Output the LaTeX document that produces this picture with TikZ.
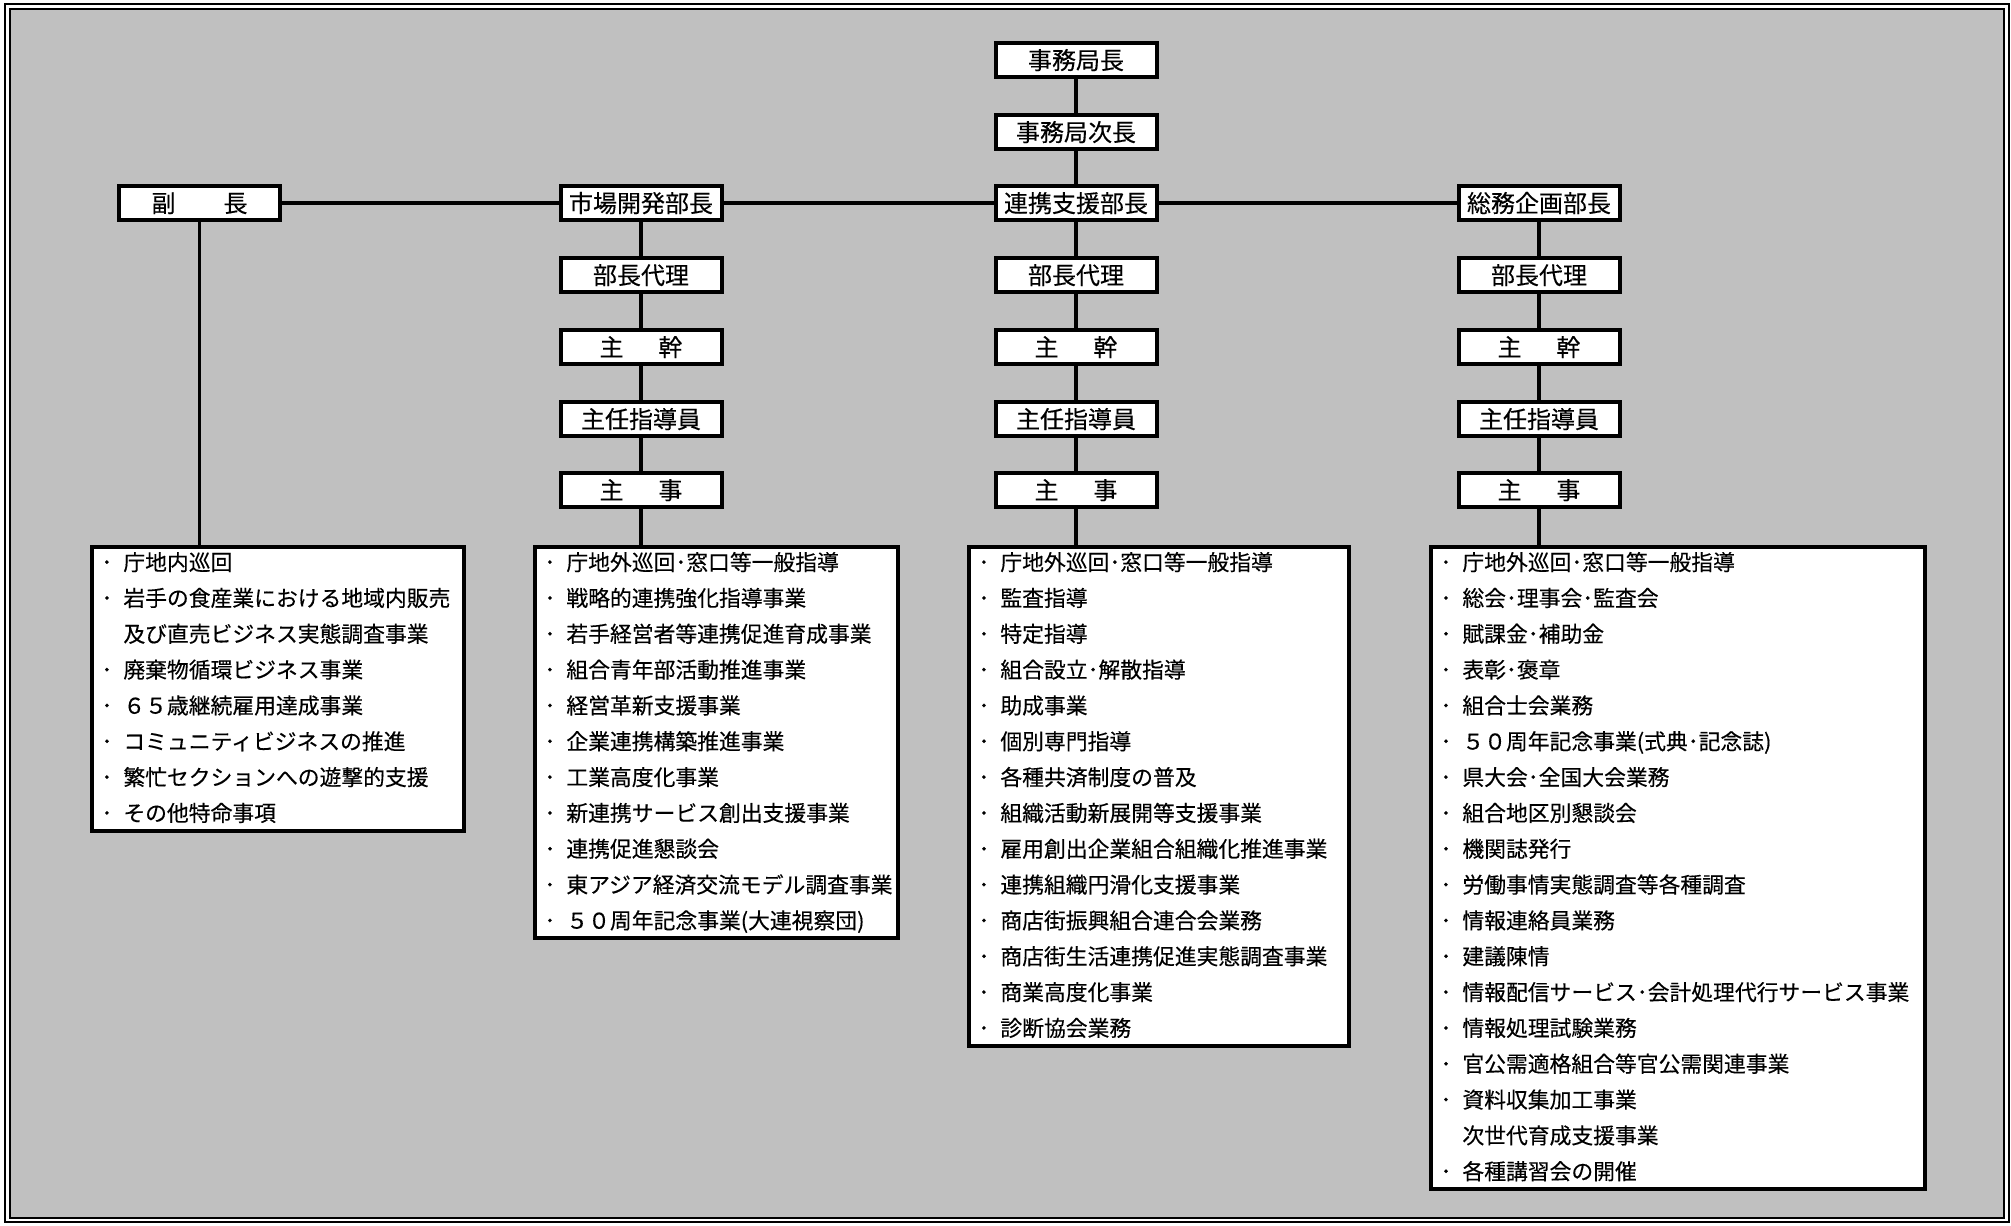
\documentclass[tikz,border=0pt]{standalone}
\usepackage{fontspec}
\setmainfont{Noto Sans CJK JP}[FakeBold=0.3]
\usepackage{tikz}
\definecolor{panel}{RGB}{192,192,192}
\newcommand*{\itm}{\llap{･\hspace{5.5pt}}}

\begin{document}
\begin{tikzpicture}[x=0.5pt, y=-0.5pt]
  \useasboundingbox (0,0) rectangle (2011,1225);
  \draw [line width=1pt] (5,4.5) rectangle (2008.5,1222);
  \draw [line width=1.3pt, fill=panel] (10,9) rectangle (2004,1218);

  \tikzstyle{dutybox}=[draw, line width=2pt, fill=white, anchor=north west, inner sep=0pt]
  \tikzstyle{duty}=[anchor=west, inner sep=0pt, font=\fontsize{10.9}{13}\selectfont,
    text height=9.6pt, text depth=1.2pt]

  {\tikzstyle{every node}=[draw, line width=2pt, fill=white, inner sep=0pt,
      minimum width=80.5pt, minimum height=17pt,
      font=\fontsize{12}{14}\selectfont, text height=10.4pt, text depth=1.2pt]
    \node (kyoku) at (1076, 60) {事務局長};
    \node (jicho) at (1076, 132) {事務局次長};
    \node (d0) at (199.5, 203) {副\hspace{2em}長};
    \foreach \i/\x/\bu in {1/641/市場開発部長, 2/1076/連携支援部長, 3/1539/総務企画部長}
    {
      \node (d\i) at (\x, 203) {\bu};
      \node (s\i3) at (\x, 275) {部長代理};
      \node (s\i4) at (\x, 347) {主\hspace{1.45em}幹};
      \node (s\i5) at (\x, 419) {主任指導員};
      \node (s\i6) at (\x, 490) {主\hspace{1.45em}事};
    }
  }

  % duty lists
  \foreach \i/\x/\w/\n in {0/90/372/8, 1/533/363/11, 2/967/380/14, 3/1429/494/18}
  {
    \node [dutybox, minimum width={\w*0.5pt}, minimum height={(33+(\n-1)*35.83)*0.5pt}]
      (l\i) at (\x, 545) {};
  }

  \foreach \duty [count=\k from 0] in {\itm 庁地内巡回, \itm 岩手の食産業における地域内販売,
      及び直売ビジネス実態調査事業, \itm 廃棄物循環ビジネス事業, \itm ６５歳継続雇用達成事業,
      \itm コミュニティビジネスの推進, \itm 繁忙セクションへの遊撃的支援, \itm その他特命事項}
    \node [duty] (t0\k) at ([shift={(33,{17+35.83*\k})}]l0.north west) {\duty};

  \foreach \duty [count=\k from 0] in {庁地外巡回･窓口等一般指導, 戦略的連携強化指導事業,
      若手経営者等連携促進育成事業, 組合青年部活動推進事業, 経営革新支援事業,
      企業連携構築推進事業, 工業高度化事業, 新連携サービス創出支援事業, 連携促進懇談会,
      東アジア経済交流モデル調査事業, ５０周年記念事業(大連視察団)}
    \node [duty] (t1\k) at ([shift={(33,{17+35.83*\k})}]l1.north west) {\itm \duty};

  \foreach \duty [count=\k from 0] in {庁地外巡回･窓口等一般指導, 監査指導, 特定指導,
      組合設立･解散指導, 助成事業, 個別専門指導, 各種共済制度の普及, 組織活動新展開等支援事業,
      雇用創出企業組合組織化推進事業, 連携組織円滑化支援事業, 商店街振興組合連合会業務,
      商店街生活連携促進実態調査事業, 商業高度化事業, 診断協会業務}
    \node [duty] (t2\k) at ([shift={(33,{17+35.83*\k})}]l2.north west) {\itm \duty};

  \foreach \duty [count=\k from 0] in {\itm 庁地外巡回･窓口等一般指導, \itm 総会･理事会･監査会,
      \itm 賦課金･補助金, \itm 表彰･褒章, \itm 組合士会業務, \itm ５０周年記念事業(式典･記念誌),
      \itm 県大会･全国大会業務, \itm 組合地区別懇談会, \itm 機関誌発行,
      \itm 労働事情実態調査等各種調査, \itm 情報連絡員業務, \itm 建議陳情,
      \itm 情報配信サービス･会計処理代行サービス事業, \itm 情報処理試験業務,
      \itm 官公需適格組合等官公需関連事業, \itm 資料収集加工事業, 次世代育成支援事業,
      \itm 各種講習会の開催}
    \node [duty] (t3\k) at ([shift={(33,{17+35.83*\k})}]l3.north west) {\duty};

  \draw [line width=1.8pt]
    (kyoku) -- (jicho)
    (jicho) -- (d2)
    (d0) -- (d1)
    (d1) -- (d2)
    (d2) -- (d3)
    (d0) -- (d0 |- l0.north);
  \foreach \i in {1, 2, 3}
  {
    \draw [line width=1.8pt]
      (d\i) -- (s\i3)
      (s\i3) -- (s\i4)
      (s\i4) -- (s\i5)
      (s\i5) -- (s\i6)
      (s\i6) -- (s\i6 |- l\i.north);
  }
\end{tikzpicture}
\end{document}
